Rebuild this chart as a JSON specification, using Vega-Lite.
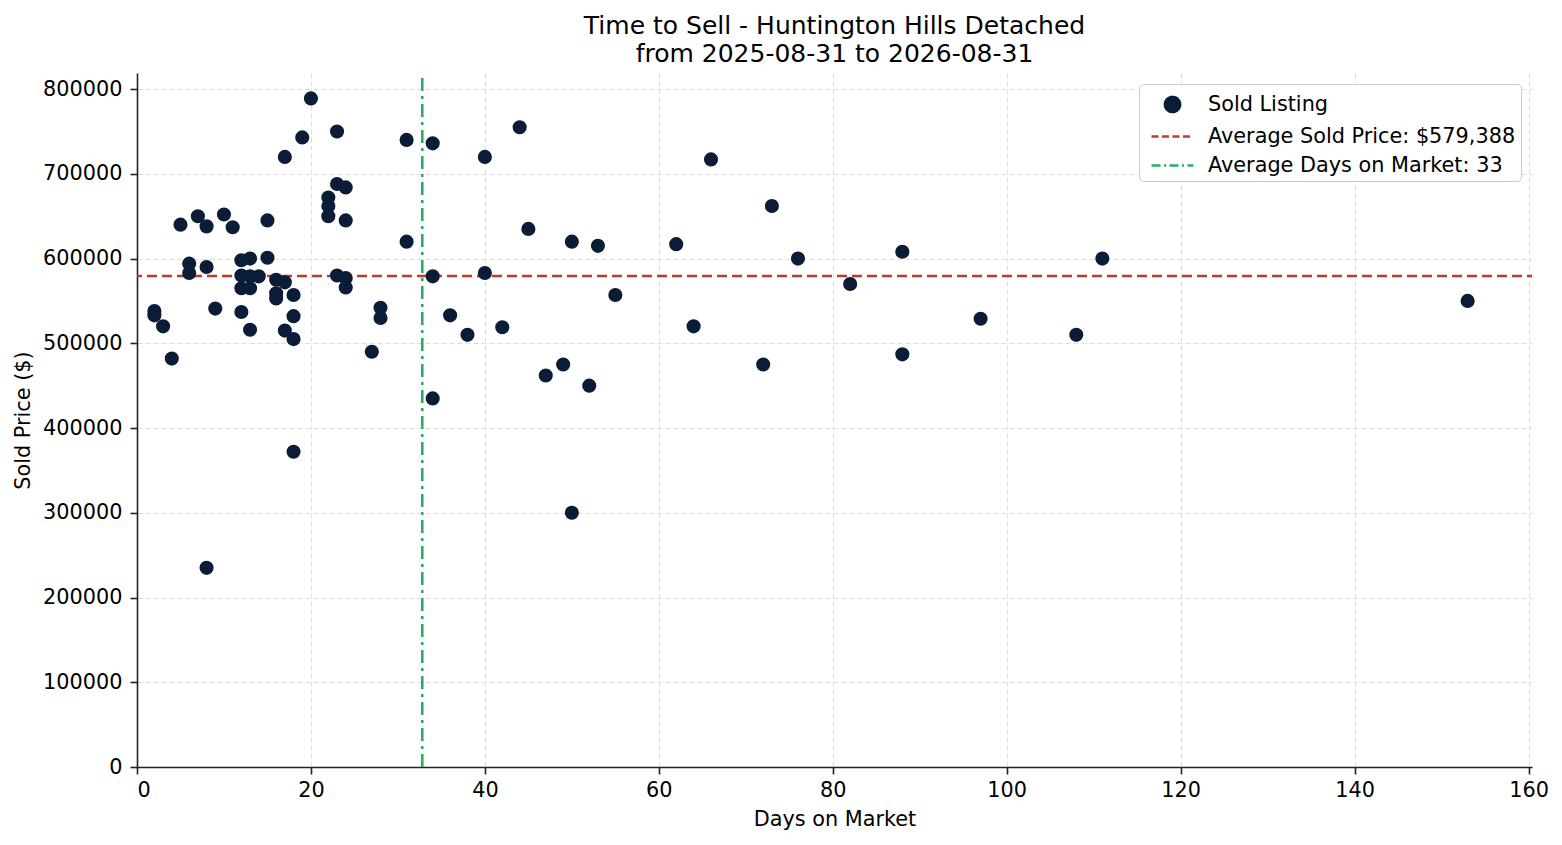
{
  "$schema": "https://vega.github.io/schema/vega-lite/v6.json",
  "width": 1395,
  "height": 694,
  "autosize": {"type": "none"},
  "padding": {"left": 137, "top": 73, "right": 30, "bottom": 78},
  "background": "white",
  "config": {
    "font": "DejaVu Sans",
    "view": {"stroke": null},
    "axis": {
      "domainColor": "#222222",
      "domainWidth": 1.6,
      "tickColor": "#222222",
      "tickWidth": 1.6,
      "tickSize": 7,
      "labelPadding": 6,
      "labelFontSize": 20.8,
      "labelColor": "#000000",
      "titleFontSize": 20.8,
      "titleFontWeight": "normal",
      "titleColor": "#000000",
      "gridColor": "#d9d9d9",
      "gridDash": [5, 3],
      "gridWidth": 0.9
    }
  },
  "title": {
    "text": ["Time to Sell - Huntington Hills Detached", "from 2025-08-31 to 2026-08-31"],
    "fontSize": 25,
    "fontWeight": "normal",
    "color": "#000000",
    "anchor": "middle",
    "offset": 5,
    "lineHeight": 28
  },
  "datasets": {
    "sold": [
      {"days": 2, "price": 538000}, {"days": 2, "price": 533000}, {"days": 3, "price": 520000},
      {"days": 4, "price": 482000}, {"days": 5, "price": 640000}, {"days": 6, "price": 594000},
      {"days": 6, "price": 583000}, {"days": 7, "price": 650000}, {"days": 8, "price": 638000},
      {"days": 8, "price": 590000}, {"days": 8, "price": 235000}, {"days": 9, "price": 541000},
      {"days": 10, "price": 652000}, {"days": 11, "price": 637000}, {"days": 12, "price": 598000},
      {"days": 12, "price": 580000}, {"days": 12, "price": 565000}, {"days": 12, "price": 537000},
      {"days": 13, "price": 600000}, {"days": 13, "price": 579000}, {"days": 13, "price": 565000},
      {"days": 13, "price": 516000}, {"days": 14, "price": 579000}, {"days": 15, "price": 645000},
      {"days": 15, "price": 601000}, {"days": 16, "price": 575000}, {"days": 16, "price": 559000},
      {"days": 16, "price": 553000}, {"days": 17, "price": 720000}, {"days": 17, "price": 572000},
      {"days": 17, "price": 515000}, {"days": 18, "price": 557000}, {"days": 18, "price": 532000},
      {"days": 18, "price": 505000}, {"days": 18, "price": 372000}, {"days": 19, "price": 743000},
      {"days": 20, "price": 789000}, {"days": 22, "price": 672000}, {"days": 22, "price": 662000},
      {"days": 22, "price": 650000}, {"days": 23, "price": 750000}, {"days": 23, "price": 688000},
      {"days": 23, "price": 580000}, {"days": 24, "price": 684000}, {"days": 24, "price": 645000},
      {"days": 24, "price": 577000}, {"days": 24, "price": 566000}, {"days": 27, "price": 490000},
      {"days": 28, "price": 542000}, {"days": 28, "price": 530000}, {"days": 31, "price": 740000},
      {"days": 31, "price": 620000}, {"days": 34, "price": 736000}, {"days": 34, "price": 579000},
      {"days": 34, "price": 435000}, {"days": 36, "price": 533000}, {"days": 38, "price": 510000},
      {"days": 40, "price": 720000}, {"days": 40, "price": 583000}, {"days": 42, "price": 519000},
      {"days": 44, "price": 755000}, {"days": 45, "price": 635000}, {"days": 47, "price": 462000},
      {"days": 49, "price": 475000}, {"days": 50, "price": 620000}, {"days": 50, "price": 300000},
      {"days": 52, "price": 450000}, {"days": 53, "price": 615000}, {"days": 55, "price": 557000},
      {"days": 62, "price": 617000}, {"days": 64, "price": 520000}, {"days": 66, "price": 717000},
      {"days": 72, "price": 475000}, {"days": 73, "price": 662000}, {"days": 76, "price": 600000},
      {"days": 82, "price": 570000}, {"days": 88, "price": 608000}, {"days": 88, "price": 487000},
      {"days": 97, "price": 529000}, {"days": 108, "price": 510000}, {"days": 111, "price": 600000},
      {"days": 153, "price": 550000}
    ],
    "averages": [
      {"avg_price": 579388, "avg_days": 32.8}
    ]
  },
  "layer": [
    {
      "data": {"name": "averages"},
      "mark": {"type": "rule", "strokeWidth": 2.6, "strokeDash": [10, 5], "strokeDashOffset": 5},
      "encoding": {
        "y": {"field": "avg_price", "type": "quantitative", "scale": {"domain": [0, 819000], "nice": false, "zero": false}},
        "color": {"datum": "Average Sold Price: $579,388"}
      }
    },
    {
      "data": {"name": "averages"},
      "mark": {"type": "rule", "strokeWidth": 2.6, "strokeDash": [13, 5, 3, 5]},
      "encoding": {
        "x": {"field": "avg_days", "type": "quantitative", "scale": {"domain": [0, 160.4], "nice": false, "zero": false}},
        "y": {"datum": 0},
        "y2": {"datum": 819000},
        "color": {"datum": "Average Days on Market: 33"}
      }
    },
    {
      "data": {"name": "sold"},
      "mark": {"type": "point", "filled": true, "size": 200, "opacity": 1},
      "encoding": {
        "x": {
          "field": "days",
          "type": "quantitative",
          "title": "Days on Market",
          "scale": {"domain": [0, 160.4], "nice": false, "zero": false},
          "axis": {"values": [0, 20, 40, 60, 80, 100, 120, 140, 160], "format": "d", "titlePadding": 10}
        },
        "y": {
          "field": "price",
          "type": "quantitative",
          "title": "Sold Price ($)",
          "scale": {"domain": [0, 819000], "nice": false, "zero": false},
          "axis": {"values": [0, 100000, 200000, 300000, 400000, 500000, 600000, 700000, 800000], "format": "d", "labelPadding": 8, "titlePadding": 9}
        },
        "color": {
          "datum": "Sold Listing",
          "scale": {
            "domain": ["Sold Listing", "Average Sold Price: $579,388", "Average Days on Market: 33"],
            "range": ["#0b1c36", "#c0392b", "#27ae60"]
          },
          "legend": {
            "title": null,
            "orient": "top-right",
            "offset": 11,
            "padding": 5,
            "fillColor": "white",
            "strokeColor": "#cccccc",
            "cornerRadius": 4,
            "labelFontSize": 20.8,
            "labelColor": "#000000",
            "labelLimit": 0,
            "symbolSize": 784,
            "symbolOffset": 13,
            "symbolStrokeWidth": 2.6,
            "symbolOpacity": 1,
            "labelOffset": 20,
            "rowPadding": 3,
            "symbolType": {"expr": "datum.index === 0 ? 'M-0.54,0A0.54,0.54 0 1,0 0.54,0A0.54,0.54 0 1,0 -0.54,0Z' : 'M-1.5,0H1.5'"},
            "symbolStrokeColor": {"expr": "datum.index === 1 ? '#c0392b' : (datum.index === 2 ? '#27ae60' : '#0b1c36')"},
            "symbolDash": {"expr": "datum.index === 1 ? [7, 3.5] : (datum.index === 2 ? [9, 3.5, 2, 3.5] : [1, 0])"}
          }
        }
      }
    }
  ]
}
